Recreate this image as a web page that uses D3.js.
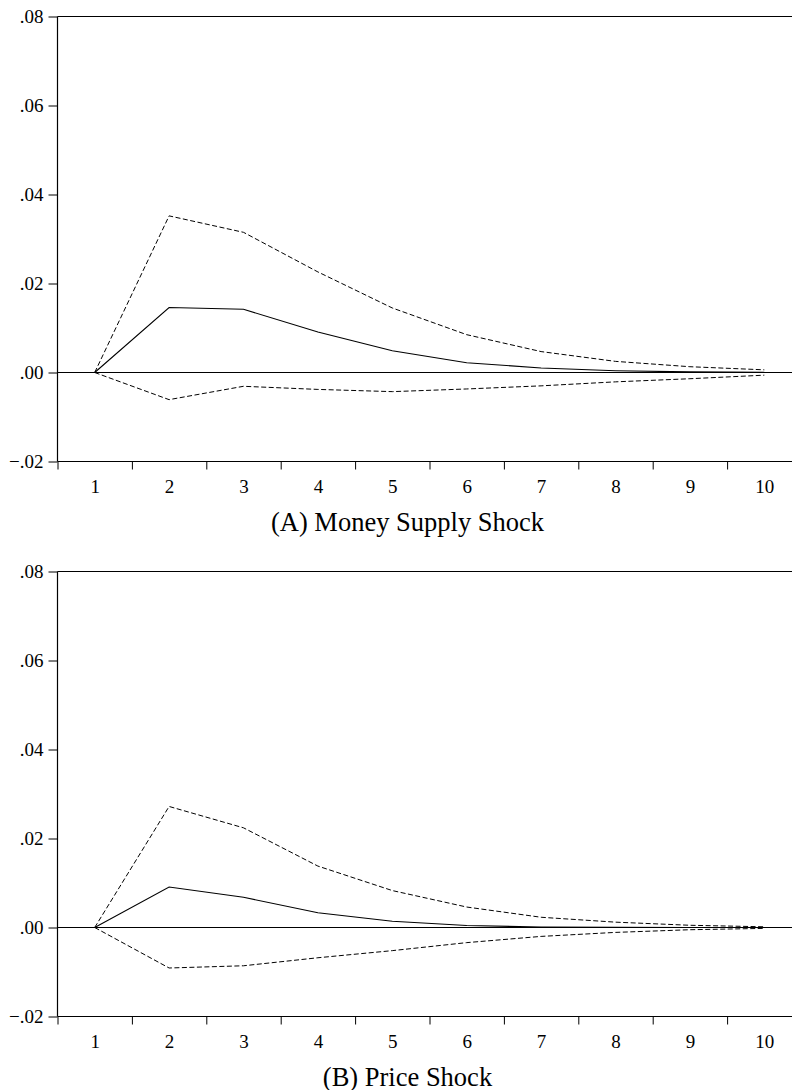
<!DOCTYPE html>
<html>
<head>
<meta charset="utf-8">
<script src="https://d3js.org/d3.v7.min.js"></script>
<style>
  body { margin: 0; background: #fff; }
  text { font-family: "Liberation Serif", "Times New Roman", serif; fill: #000; }
</style>
</head>
<body>
<svg id="chart" width="792" height="1090"></svg>
<script>
  // periods after the shock
  var periods = [1, 2, 3, 4, 5, 6, 7, 8, 9, 10];
  var yTicks = [-0.02, 0.00, 0.02, 0.04, 0.06, 0.08];

  // (A) money supply shock: response and +/- 2 s.e. bands
  var moneyResp  = [0, 0.0146, 0.0142, 0.0091, 0.0049, 0.0022, 0.0010, 0.0004, 0.00015, 0.00005];
  var moneyUpper = [0, 0.0352, 0.0315, 0.0226, 0.0145, 0.0085, 0.0047, 0.0025, 0.0013, 0.0006];
  var moneyLower = [0, -0.0061, -0.0031, -0.0038, -0.0043, -0.0037, -0.0030, -0.0021, -0.0014, -0.0006];

  // (B) price shock
  var priceResp  = [0, 0.0091, 0.0068, 0.0033, 0.0014, 0.00045, 0.0001, 0.00002, 0, 0];
  var priceUpper = [0, 0.0272, 0.0224, 0.0138, 0.0083, 0.0046, 0.0023, 0.0012, 0.0005, 0.00016];
  var priceLower = [0, -0.0091, -0.0086, -0.0068, -0.0052, -0.0034, -0.0020, -0.0011, -0.0005, -0.0002];

  var titles = ["(A) Money Supply Shock", "(B) Price Shock"];

  var svg = d3.select("#chart");

  var left = 57.5, right = 801.5, plotH = 445;

  var x = d3.scaleLinear()
    .domain([0.5, 10.5])
    .range([left, right]);

  var fmt = function(v) {
    return d3.format(".2f")(v).replace("0.", ".");
  };

  function drawPanel(top, resp, upper, lower, title) {
    var y = d3.scaleLinear()
      .domain([-0.02, 0.08])
      .range([top + plotH, top]);

    var g = svg.append("g");

    // y axis with labels
    var yAxis = g.append("g")
      .attr("transform", "translate(" + left + ",0)")
      .call(d3.axisLeft(y).tickValues(yTicks).tickSize(9).tickSizeOuter(0).tickFormat(fmt));
    yAxis.select(".domain").remove();
    yAxis.selectAll("line").attr("stroke", "#000");
    yAxis.selectAll("text")
      .attr("x", -14)
      .attr("dy", "0.34em")
      .style("font-size", "19px")
      .style("font-family", "'Liberation Serif', 'Times New Roman', serif");

    // x axis: tick marks between periods, labels under each period
    var xTicks = g.append("g")
      .attr("transform", "translate(0," + (top + plotH) + ")")
      .call(d3.axisBottom(x).tickValues(periods.slice(0, 10).map(function(p) { return p - 0.5; }))
        .tickSize(8).tickSizeOuter(0).tickFormat(""));
    xTicks.select(".domain").remove();
    xTicks.selectAll("line").attr("stroke", "#000");

    var xLabels = g.append("g")
      .attr("transform", "translate(0," + (top + plotH) + ")")
      .call(d3.axisBottom(x).tickValues(periods).tickSize(0).tickPadding(18).tickFormat(d3.format("d")));
    xLabels.select(".domain").remove();
    xLabels.selectAll("text")
      .attr("dy", "0.71em")
      .style("font-size", "19px")
      .style("font-family", "'Liberation Serif', 'Times New Roman', serif");

    // frame: left, top, bottom
    g.append("line")
      .attr("x1", left).attr("x2", left)
      .attr("y1", y(0.08)).attr("y2", y(-0.02))
      .attr("stroke", "#000").attr("stroke-width", 1.2);
    g.append("line")
      .attr("x1", left).attr("x2", right)
      .attr("y1", y(0.08)).attr("y2", y(0.08))
      .attr("stroke", "#000").attr("stroke-width", 1.2);
    g.append("line")
      .attr("x1", left).attr("x2", right)
      .attr("y1", y(-0.02)).attr("y2", y(-0.02))
      .attr("stroke", "#000").attr("stroke-width", 1.2);

    // zero line
    g.append("line")
      .attr("x1", left).attr("x2", right)
      .attr("y1", y(0)).attr("y2", y(0))
      .attr("stroke", "#000").attr("stroke-width", 1);

    var line = d3.line()
      .x(function(d, i) { return x(periods[i]); })
      .y(function(d) { return y(d); });

    g.append("path")
      .datum(upper)
      .attr("fill", "none")
      .attr("stroke", "#000")
      .attr("stroke-width", 1)
      .attr("stroke-dasharray", "5,2.5")
      .attr("d", line);

    g.append("path")
      .datum(lower)
      .attr("fill", "none")
      .attr("stroke", "#000")
      .attr("stroke-width", 1)
      .attr("stroke-dasharray", "5,2.5")
      .attr("d", line);

    g.append("path")
      .datum(resp)
      .attr("fill", "none")
      .attr("stroke", "#000")
      .attr("stroke-width", 1.1)
      .attr("d", line);

    g.append("text")
      .attr("x", 407.5)
      .attr("y", top + plotH + 69)
      .attr("text-anchor", "middle")
      .style("font-size", "26.5px")
      .text(title);
  }

  drawPanel(16.5, moneyResp, moneyUpper, moneyLower, titles[0]);
  drawPanel(571.5, priceResp, priceUpper, priceLower, titles[1]);
</script>
</body>
</html>
